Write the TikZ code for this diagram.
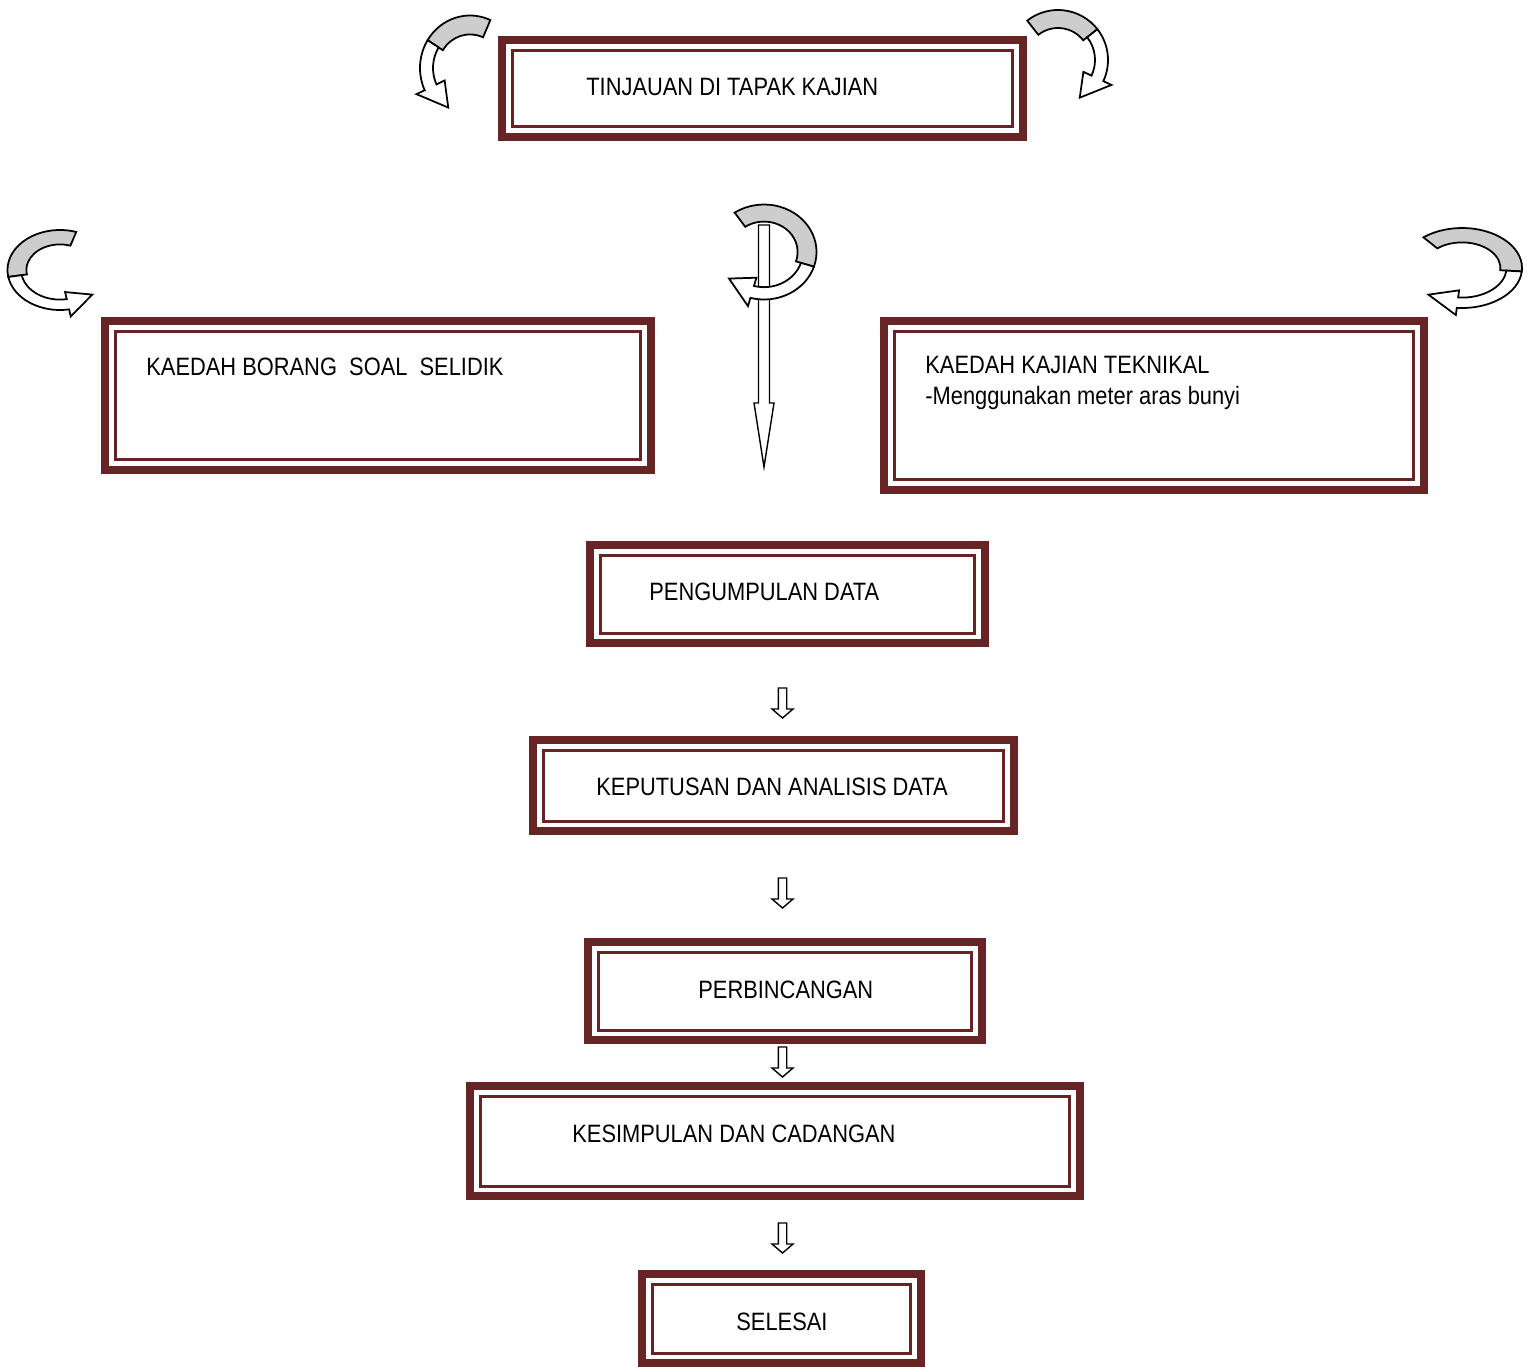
\documentclass[tikz,border=0pt]{standalone}
\usepackage{fontspec}
\newfontfamily\boxfont{Liberation Sans}[FakeStretch=0.87]
\definecolor{framered}{RGB}{103,36,36}
\definecolor{curlgray}{RGB}{205,205,205}
\tikzset{frame/.style = {draw=framered, line width=0.16cm, fill=white, inner sep=0,
    path picture={\draw[framered, line width=0.06cm]
      ([shift={(0.2cm,-0.2cm)}]path picture bounding box.north west) rectangle
      ([shift={(-0.2cm,0.2cm)}]path picture bounding box.south east);}}}
\tikzset{boxtext/.style = {anchor=west, inner sep=0, align=left,
    font=\boxfont\fontsize{14.3}{17.6}\selectfont}}
\tikzset{arrowline/.style = {draw=black, fill=white, line width=0.8pt, line join=miter}}
\tikzset{curlback/.style = {draw=black, fill=curlgray, line width=1pt}}
\tikzset{curlfront/.style = {draw=black, fill=white, line width=1pt}}
% hollow down arrow: top point, length, shaft half width, head half width, head length
\newcommand{\hollowdown}[5]{%
  \begin{scope}[shift={#1}]
    \filldraw[arrowline] (-#3,0) -- (#3,0) -- (#3,{-#2+#5}) -- (#4,{-#2+#5})
      -- (0,-#2) -- (-#4,{-#2+#5}) -- (-#3,{-#2+#5}) -- cycle;
  \end{scope}}
% curled ribbon arrow: centre, xscale, yscale, start, twist, end angle, turn sign
\newcommand{\curlarrow}[7]{%
  \begin{scope}[shift={#1}, xscale=#2, yscale=#3]
    \filldraw[curlback] (#4:32) arc[start angle=#4, end angle=#5, radius=32]
      -- (#5:50) arc[start angle=#5, end angle=#4, radius=50] -- cycle;
    \filldraw[curlfront] (#5:37) arc[start angle=#5, end angle=#6, radius=37]
      -- (#6:28) -- ({#6+#7*35}:43.5) -- (#6:59) -- (#6:50)
      arc[start angle=#6, end angle=#5, radius=50] -- cycle;
  \end{scope}}

\begin{document}
\begin{tikzpicture}[x=0.02cm, y=0.02cm]
  \fill[white] (0,0) rectangle (1530,-1366);
  \useasboundingbox (0,0) rectangle (1530,-1366);

  % boxes
  \node[frame, minimum width=10.42cm, minimum height=1.94cm] (tinjauan) at (762.5,-88.5) {};
  \node[frame, minimum width=10.92cm, minimum height=2.98cm] (borang) at (378,-395.5) {};
  \node[frame, minimum width=10.8cm, minimum height=3.38cm] (teknikal) at (1154,-405.5) {};
  \node[frame, minimum width=7.9cm, minimum height=1.96cm] (pengumpulan) at (787.5,-594) {};
  \node[frame, minimum width=9.62cm, minimum height=1.82cm] (keputusan) at (773.5,-785.5) {};
  \node[frame, minimum width=7.88cm, minimum height=1.96cm] (perbincangan) at (785,-991) {};
  \node[frame, minimum width=12.2cm, minimum height=2.2cm] (kesimpulan) at (775,-1141) {};
  \node[frame, minimum width=5.58cm, minimum height=1.78cm] (selesai) at (781.5,-1318.5) {};

  % texts
  \node[boxtext] (tinjauan-t) at (586,-87) {TINJAUAN DI TAPAK KAJIAN};
  \node[boxtext] (borang-t) at (146,-367) {KAEDAH BORANG\ \ SOAL\ \ SELIDIK};
  \node[boxtext] (teknikal-t) at (925,-383) {KAEDAH KAJIAN TEKNIKAL\\-Menggunakan meter aras bunyi};
  \node[boxtext] (pengumpulan-t) at (649,-592) {PENGUMPULAN DATA};
  \node[boxtext] (keputusan-t) at (596,-787) {KEPUTUSAN DAN ANALISIS DATA};
  \node[boxtext] (perbincangan-t) at (698,-990) {PERBINCANGAN};
  \node[boxtext] (kesimpulan-t) at (572,-1134) {KESIMPULAN DAN CADANGAN};
  \node[boxtext] (selesai-t) at (736,-1322) {SELESAI};

  % arrows down
  \coordinate (long-top) at (764,-225);
  \coordinate (a1) at (782.5,-688);
  \coordinate (a2) at (782.5,-878);
  \coordinate (a3) at (782.5,-1047);
  \coordinate (a4) at (782.5,-1223);
  \hollowdown{(long-top)}{242}{5.5}{10}{64}
  \hollowdown{(a1)}{30}{4.2}{10.5}{9}
  \hollowdown{(a2)}{30}{4.2}{10.5}{9}
  \hollowdown{(a3)}{30}{4.2}{10.5}{9}
  \hollowdown{(a4)}{30}{4.2}{10.5}{9}

  % curled arrows
  \curlarrow{(470,-68)}{1}{1.05}{66}{148}{205}{1}
  \curlarrow{(1058,-60)}{1}{1}{128}{38}{-25}{-1}
  \curlarrow{(60,-270)}{1.05}{0.8}{72}{190}{280}{1}
  \curlarrow{(1462,-268)}{1.2}{0.8}{130}{-5}{-95}{-1}
  \curlarrow{(764,-252)}{1.05}{0.95}{124}{-18}{-105}{-1}
\end{tikzpicture}
\end{document}
